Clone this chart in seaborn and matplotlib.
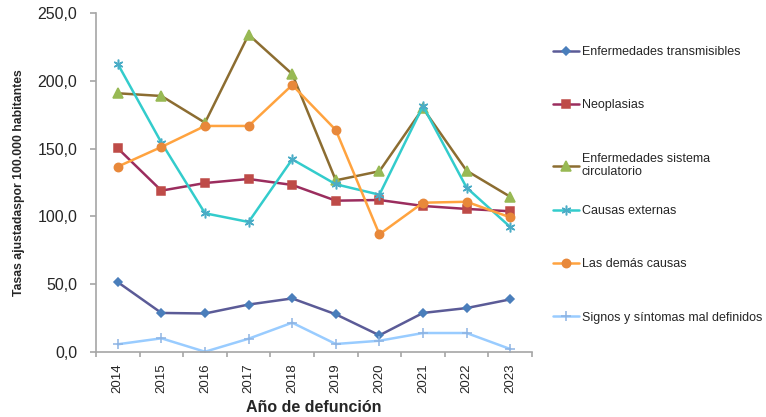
import matplotlib
matplotlib.use('Agg')
import matplotlib.pyplot as plt
from matplotlib.ticker import FuncFormatter, MultipleLocator
import numpy as np
import pandas as pd
import seaborn as sns

sns.set_theme(style="white")
plt.rcParams['font.family'] = ['Liberation Sans', 'DejaVu Sans']

years = [2014, 2015, 2016, 2017, 2018, 2019, 2020, 2021, 2022, 2023]

transmisibles = [51.5, 28.8, 28.4, 35.0, 39.5, 27.8, 12.3, 28.8, 32.4, 38.8]
neoplasias = [150.2, 119.0, 124.6, 127.6, 123.2, 111.6, 112.1, 107.7, 105.5, 103.8]
circulatorio = [190.8, 188.8, 169.1, 234.0, 205.0, 126.6, 133.3, 179.7, 133.7, 114.5]
externas = [212.4, 154.4, 102.3, 95.9, 142.1, 123.7, 116.0, 181.4, 121.2, 92.2]
demas = [136.7, 151.2, 166.7, 166.7, 196.9, 163.7, 86.8, 110.1, 110.8, 99.3]
signos = [5.7, 10.1, 0.2, 9.8, 21.6, 5.9, 8.3, 14.0, 14.0, 2.2]

labels = [
    "Enfermedades transmisibles",
    "Neoplasias",
    "Enfermedades sistema\ncirculatorio",
    "Causas externas",
    "Las demás causas",
    "Signos y síntomas mal definidos",
]
series = [transmisibles, neoplasias, circulatorio, externas, demas, signos]

# (line colour, marker, marker colour, marker size)
styles = [
    ("#5B5B97", "D", "#4A7EBB", 4.5),
    ("#9B2D5E", "s", "#BE4B48", 6),
    ("#8C6D31", "^", "#98B954", 6.5),
    ("#33CCCC", (6, 2, 0), "#4BACC6", 7),
    ("#FFA33F", "o", "#E8883A", 6),
    ("#99CCFF", "+", "#8EB4E3", 7),
]

fig = plt.figure(figsize=(7.66, 4.17), dpi=100)
ax = fig.add_axes([96 / 766, 1 - 352 / 417, (532 - 96) / 766, (352 - 13) / 417])

for lab, vals, (lc, mk, mc, ms) in zip(labels, series, styles):
    df = pd.DataFrame({"year": years, "value": vals})
    sns.lineplot(data=df, x="year", y="value", ax=ax, color=lc, linewidth=1.8,
                 marker=mk, markersize=ms, markerfacecolor=mc,
                 markeredgecolor=mc, markeredgewidth=1.1, label=lab)

ax.set_xlim(2013.5, 2023.5)
ax.set_ylim(0, 250)
ax.set_xticks(years)
ax.set_xticks(np.arange(2013.5, 2024.0, 1.0), minor=True)
ax.yaxis.set_major_locator(MultipleLocator(50))
ax.yaxis.set_major_formatter(FuncFormatter(lambda v, p: f"{v:.1f}".replace(".", ",")))

for s in ["top", "right"]:
    ax.spines[s].set_visible(False)
for s in ["left", "bottom"]:
    ax.spines[s].set_color("#A6A6A6")
    ax.spines[s].set_linewidth(1.2)

ax.tick_params(axis="x", which="major", length=0, pad=8, labelsize=9.5)
ax.tick_params(axis="x", which="minor", length=3.5, width=1.2, color="#A6A6A6",
               direction="out", bottom=True)
ax.tick_params(axis="y", which="major", length=4.5, width=1.2, color="#A6A6A6",
               direction="out", left=True, labelsize=11.5, pad=9)
for t in ax.get_xticklabels():
    t.set_rotation(90)
ax.grid(False)

ax.set_xlabel("Año de defunción", fontsize=11.5, fontweight="bold", labelpad=5)
ax.set_ylabel("Tasas ajustadaspor 100.000 habitantes", fontsize=8.8,
              fontweight="bold", labelpad=9)

# two legend blocks so the wrapped entry does not push the rest down
handles, hlabels = ax.get_legend_handles_labels()
leg_kw = dict(bbox_transform=fig.transFigure, frameon=False, fontsize=9,
              handlelength=2.1, handletextpad=0.2, labelspacing=3.3,
              borderaxespad=0, borderpad=0, loc="upper left")
leg1 = ax.legend(handles[:3], hlabels[:3], bbox_to_anchor=(553 / 766, 1 - 46 / 417), **leg_kw)
ax.add_artist(leg1)
ax.legend(handles[3:], hlabels[3:], bbox_to_anchor=(553 / 766, 1 - 205 / 417), **leg_kw)

fig.savefig("out.png", dpi=100)
